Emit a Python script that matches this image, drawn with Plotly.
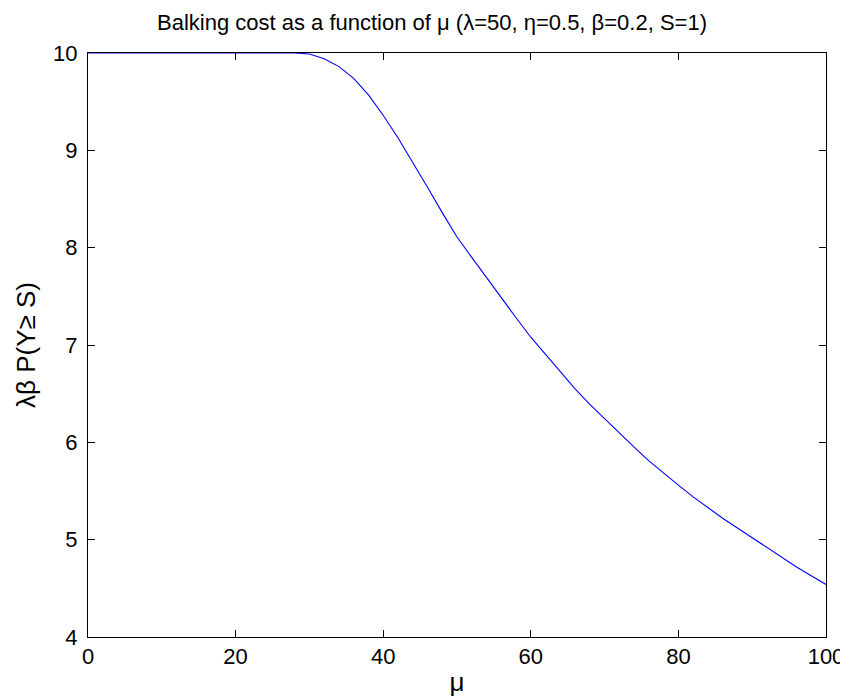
import plotly.graph_objects as go

mu = [0, 2, 4, 6, 8, 10, 12, 14, 16, 18, 20, 22, 24, 26, 28, 30, 32, 34, 36, 38,
      40, 42, 44, 46, 48, 50, 52, 54, 56, 58, 60, 62, 64, 66, 68, 70, 72, 74, 76, 78,
      80, 82, 84, 86, 88, 90, 92, 94, 96, 98, 100]
cost = [10, 10, 10, 10, 10, 10, 10, 10, 10, 10, 10, 10, 10, 10, 10, 9.99, 9.94, 9.86, 9.74, 9.57,
        9.36, 9.13, 8.88, 8.62, 8.36, 8.11, 7.90, 7.69, 7.48, 7.28, 7.08, 6.90, 6.72, 6.55, 6.39,
        6.24, 6.09, 5.95, 5.81, 5.68, 5.56, 5.44, 5.33, 5.22, 5.12, 5.02, 4.92, 4.82, 4.72, 4.63, 4.54]

x_ticks = [0, 20, 40, 60, 80, 100]
y_ticks = [4, 5, 6, 7, 8, 9, 10]

font_family = "Liberation Sans, Arial, sans-serif"

fig = go.Figure()
fig.add_trace(go.Scatter(x=mu, y=cost, mode="lines",
                         line=dict(color="rgb(0,0,255)", width=1.1),
                         showlegend=False, hoverinfo="skip"))

fig.update_layout(
    width=848, height=696,
    margin=dict(l=80, r=24, t=45, b=65),
    paper_bgcolor="white", plot_bgcolor="white",
    font=dict(family=font_family, size=22, color="black"),
    title=dict(text="Balking cost as a function of μ (λ=50, η=0.5, β=0.2, S=1)",
               x=0.5, xanchor="center", y=0.99, yanchor="top",
               font=dict(size=22, color="black", family=font_family)),
)
fig.update_xaxes(range=[0, 100], tickvals=x_ticks, ticktext=[str(v) for v in x_ticks],
                 showline=True, linecolor="black", linewidth=1, mirror="ticks",
                 ticks="inside", ticklen=7, tickcolor="black", showgrid=False, zeroline=False,
                 title=dict(text="μ", standoff=4), tickfont=dict(size=22))
fig.update_yaxes(range=[4, 10], tickvals=y_ticks, ticktext=[str(v) for v in y_ticks],
                 showline=True, linecolor="black", linewidth=1, mirror="ticks",
                 ticks="inside", ticklen=7, tickcolor="black", showgrid=False, zeroline=False,
                 ticklabelstandoff=5,
                 title=dict(text="λβ P(Y≥ S)", standoff=10), tickfont=dict(size=22))

fig.write_html("out.html")
